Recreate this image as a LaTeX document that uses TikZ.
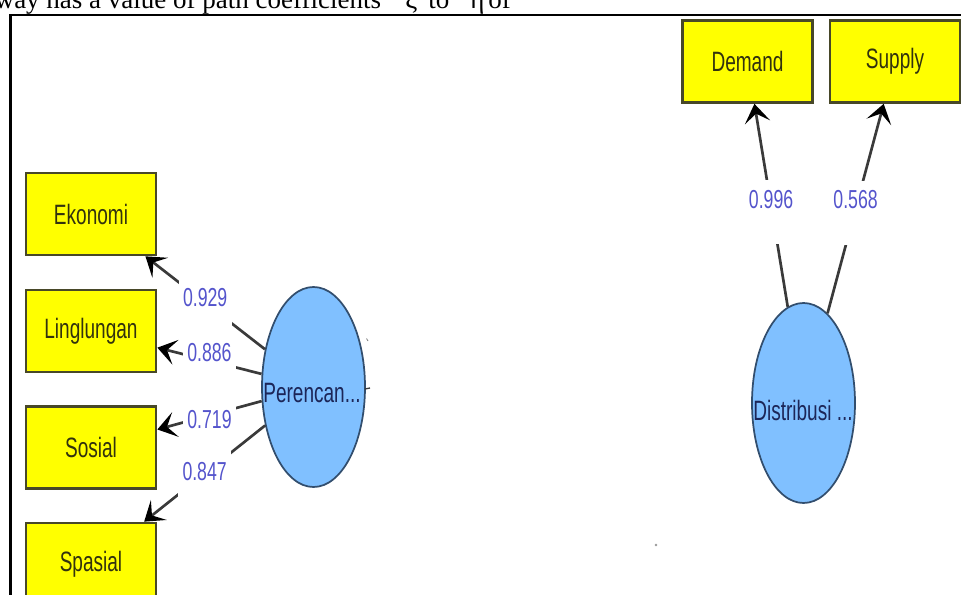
\documentclass[tikz,border=0pt]{standalone}
\usepackage{fontspec}
\setmainfont{Liberation Serif}
\newfontfamily\condfont[FakeStretch=0.68]{Liberation Sans}
\usetikzlibrary{arrows.meta,shapes.geometric}
\definecolor{boxfill}{RGB}{255,255,0}
\definecolor{boxdraw}{RGB}{72,72,40}
\definecolor{boxtext}{RGB}{50,50,14}
\definecolor{ellfill}{RGB}{128,192,255}
\definecolor{elldraw}{RGB}{50,78,110}
\definecolor{elltext}{RGB}{28,38,88}
\definecolor{lblcol}{RGB}{84,84,204}
\definecolor{linecol}{RGB}{58,58,58}
\tikzset{
  indbox/.style={rectangle, draw=boxdraw, line width=2pt, fill=boxfill,
    minimum width=97.5pt, minimum height=61.5pt, inner sep=0pt,
    text=boxtext, font=\condfont\fontsize{21}{24}\selectfont},
  latent/.style={ellipse, draw=elldraw, line width=1.3pt, fill=ellfill,
    minimum width=77.25pt, minimum height=150pt, inner sep=0pt},
  lattext/.style={inner sep=0pt, text=elltext, font=\condfont\fontsize{21}{24}\selectfont},
  conn/.style={draw=linecol, line width=2pt,
    -{Stealth[length=14pt, width=19pt, inset=6.5pt, black]}},
  gapbox/.style={fill=white, inner sep=0pt, minimum width=40pt, minimum height=48pt},
  coef/.style={inner sep=0pt, text=lblcol, font=\condfont\fontsize{19.5}{22}\selectfont},
  toptext/.style={inner sep=0pt, anchor=base west, font=\fontsize{20.25}{24}\selectfont}
}
\begin{document}
\begin{tikzpicture}[x=0.75pt,y=-0.75pt]
\useasboundingbox (0,0) rectangle (961,595);
\clip (0,0) rectangle (961,595);
\fill[white] (0,0) rectangle (961,595);

% clipped caption line above the frame
\node[toptext] (cap1) at (-5.5,8.5) {way has a value of path coefficients};
\node[toptext] (cap2) at (405,8.5) {ξ};
\node[toptext] (cap3) at (428,8.5) {to};
\node[toptext] (cap4) at (470,8.5) {η};
\node[toptext] (cap5) at (488,8.5) {of};

% frame (left and top edges)
\coordinate (fbl) at (10.5,600);
\coordinate (ftl) at (10.5,15);
\coordinate (ftr) at (970,15);
\draw[line width=2pt, black] (fbl) -- (ftl) -- (ftr);

% indicator boxes
\node[indbox] (E)  at (91,214)    {Ekonomi};
\node[indbox] (L)  at (91,331)    {Linglungan};
\node[indbox] (S)  at (91,447.5)  {Sosial};
\node[indbox] (Sp) at (91,564)    {Spasial};
\node[indbox] (Dm) at (747.5,61.5) {Demand};
\node[indbox] (Su) at (895,61.5)   {Supply};

% latent variables
\node[latent] (P) at (313.5,387) {};
\node[lattext] (Pt) at (312,393) {Perencan...};
\node[latent] (D) at (803.5,403) {};
\node[lattext] (Dt) at (803,410) {Distribusi ...};

% loadings
\draw[conn] (P) -- node[gapbox]{} node[coef, yshift=3.75pt]{0.929} (E);
\draw[conn] (P) -- node[gapbox]{} node[coef, yshift=6pt]{0.886} (L);
\draw[conn] (P) -- node[gapbox]{} node[coef, yshift=-3.4pt]{0.719} (S);
\draw[conn] (P) -- node[gapbox]{} node[coef, yshift=1.5pt]{0.847} (Sp);
\draw[conn] (D) -- node[gapbox, yshift=-5pt]{} node[coef, yshift=4pt]{0.996} (Dm);
\draw[conn] (D) -- node[gapbox, yshift=-3pt]{} node[coef, yshift=6.5pt]{0.568} (Su);

% small stray marks of the original screenshot
\coordinate (m1a) at (365,389);
\coordinate (m1b) at (370,388);
\draw[linecol, line width=1pt] (m1a) -- (m1b);
\coordinate (m2a) at (366.5,338.5);
\coordinate (m2b) at (368,341);
\draw[gray, line width=0.6pt] (m2a) -- (m2b);
\fill[gray!80] (656,545) circle (1pt);
\end{tikzpicture}
\end{document}
